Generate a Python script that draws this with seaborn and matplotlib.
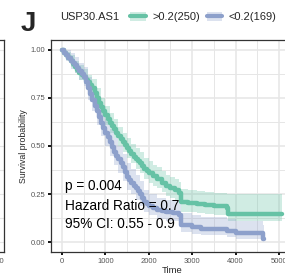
import numpy as np
import pandas as pd
import matplotlib
matplotlib.use('Agg')
import matplotlib.pyplot as plt
from matplotlib.patches import Patch
from matplotlib.lines import Line2D
from matplotlib.ticker import MultipleLocator
import seaborn as sns

# survival curves
green_t = [0, 50, 100, 150, 200, 250, 300, 350, 400, 450, 500, 550, 600, 650, 700, 750, 800, 850,
           900, 950, 1000, 1050, 1100, 1150, 1200, 1250, 1300, 1350, 1400, 1450, 1500, 1550, 1600,
           1650, 1700, 1750, 1800, 1850, 1900, 1950, 2000, 2100, 2200, 2300, 2400, 2500, 2600, 2700,
           2750, 2900, 3100, 3300, 3500, 3800, 3820, 4200, 4600, 5060]
green_s = [1.00, 0.985, 0.97, 0.955, 0.94, 0.925, 0.91, 0.895, 0.88, 0.87, 0.86, 0.845, 0.83, 0.815,
           0.80, 0.775, 0.75, 0.725, 0.70, 0.68, 0.66, 0.64, 0.62, 0.605, 0.59, 0.57, 0.55, 0.535,
           0.52, 0.505, 0.49, 0.475, 0.46, 0.445, 0.43, 0.42, 0.41, 0.395, 0.38, 0.37, 0.36, 0.345,
           0.33, 0.31, 0.295, 0.28, 0.27, 0.255, 0.21, 0.205, 0.20, 0.195, 0.19, 0.18, 0.146, 0.146,
           0.146, 0.146]

blue_t = [0, 50, 100, 150, 200, 250, 300, 350, 400, 450, 500, 550, 600, 650, 700, 750, 800, 850,
          900, 950, 1000, 1050, 1100, 1150, 1200, 1250, 1300, 1350, 1400, 1450, 1500, 1550, 1600,
          1650, 1700, 1750, 1800, 1850, 1900, 1950, 2000, 2100, 2200, 2300, 2400, 2550, 2700, 2750,
          3000, 3200, 3800, 4000, 4620, 4650]
blue_s = [1.00, 0.985, 0.97, 0.955, 0.94, 0.93, 0.92, 0.905, 0.89, 0.875, 0.86, 0.83, 0.80, 0.77,
          0.74, 0.71, 0.68, 0.65, 0.62, 0.595, 0.57, 0.545, 0.52, 0.495, 0.47, 0.45, 0.43, 0.41,
          0.39, 0.365, 0.34, 0.325, 0.31, 0.295, 0.28, 0.265, 0.25, 0.23, 0.21, 0.20, 0.19, 0.18,
          0.17, 0.165, 0.16, 0.15, 0.14, 0.09, 0.08, 0.07, 0.06, 0.05, 0.02, 0.02]

# confidence bands (coarser)
green_ci_t = [0, 100, 200, 300, 400, 500, 600, 700, 800, 900, 1000, 1100, 1200, 1300, 1400, 1500,
              1600, 1700, 1800, 1900, 2000, 2100, 2200, 2300, 2400, 2500, 2600, 2700, 2750, 2900,
              3100, 3300, 3500, 3800, 3820, 4200, 4600, 5060]
green_lo = [1.00, 0.95, 0.91, 0.88, 0.84, 0.82, 0.79, 0.75, 0.70, 0.65, 0.61, 0.57, 0.54, 0.50, 0.47,
            0.44, 0.41, 0.38, 0.36, 0.33, 0.31, 0.29, 0.28, 0.26, 0.24, 0.23, 0.22, 0.205, 0.16, 0.155,
            0.15, 0.145, 0.14, 0.135, 0.11, 0.11, 0.11, 0.11]
green_hi = [1.00, 0.99, 0.97, 0.94, 0.92, 0.90, 0.87, 0.85, 0.80, 0.75, 0.71, 0.67, 0.64, 0.60, 0.57,
            0.54, 0.51, 0.49, 0.47, 0.44, 0.42, 0.40, 0.39, 0.37, 0.35, 0.34, 0.33, 0.315, 0.275, 0.27,
            0.265, 0.26, 0.255, 0.25, 0.25, 0.25, 0.25, 0.25]

blue_ci_t = [0, 100, 200, 300, 400, 500, 600, 700, 800, 900, 1000, 1100, 1200, 1300, 1400, 1500,
             1600, 1700, 1800, 1900, 2000, 2200, 2400, 2700, 2750, 3000, 3200, 3800, 4000, 4620, 4650]
blue_lo = [1.00, 0.94, 0.90, 0.88, 0.84, 0.81, 0.74, 0.68, 0.61, 0.55, 0.50, 0.45, 0.40, 0.36, 0.32,
           0.27, 0.25, 0.22, 0.19, 0.16, 0.14, 0.12, 0.11, 0.095, 0.055, 0.045, 0.04, 0.03, 0.02, 0.01, 0.01]
blue_hi = [1.00, 1.00, 0.98, 0.96, 0.93, 0.91, 0.86, 0.80, 0.75, 0.69, 0.64, 0.59, 0.54, 0.50, 0.46,
           0.41, 0.38, 0.35, 0.32, 0.27, 0.25, 0.23, 0.22, 0.20, 0.15, 0.14, 0.13, 0.12, 0.11, 0.09, 0.09]

groups = ['>0.2(250)', '<0.2(169)']
colors = ['#66C2A5', '#8DA0CB']
stats_text = ['p = 0.004', 'Hazard Ratio = 0.7', '95% CI: 0.55 - 0.9']

# neighbouring panel's tail, only its right edge shows
left_t = [4000, 5060]
left_s = [0.093, 0.093]
left_lo = [0.06, 0.06]
left_hi = [0.14, 0.14]

sns.set_theme(style='white')
plt.rcParams['font.family'] = ['Liberation Sans', 'DejaVu Sans']

fig = plt.figure(figsize=(2.85, 2.79), dpi=100)
ax = fig.add_axes([51 / 285, 27 / 279, 241.6 / 285, 212 / 279])

df = pd.concat([
    pd.DataFrame({'time': green_t, 'surv': green_s, 'grp': groups[0]}),
    pd.DataFrame({'time': blue_t, 'surv': blue_s, 'grp': groups[1]}),
])

ax.fill_between(green_ci_t, green_lo, green_hi, step='post', color=colors[0], alpha=0.3, lw=0)
ax.fill_between(blue_ci_t, blue_lo, blue_hi, step='post', color=colors[1], alpha=0.3, lw=0)
sns.lineplot(data=df, x='time', y='surv', hue='grp', palette=colors, drawstyle='steps-post',
             linewidth=3.2, estimator=None, legend=False, ax=ax)

ax.set_xlim(-253, 5313)
ax.set_ylim(-0.05, 1.05)
ax.xaxis.set_major_locator(MultipleLocator(1000))
ax.xaxis.set_minor_locator(MultipleLocator(500))
ax.yaxis.set_major_locator(MultipleLocator(0.25))
ax.yaxis.set_minor_locator(MultipleLocator(0.125))
ax.set_yticklabels(['%.2f' % v for v in ax.get_yticks()])
ax.grid(which='major', color='#E6E6E6', lw=1.1)
ax.grid(which='minor', color='#E6E6E6', lw=0.7)
ax.set_axisbelow(True)
ax.tick_params(which='major', direction='out', length=2.5, width=1.3, color='black',
               labelsize=5.5, labelcolor='#555555', pad=1.5, bottom=True, left=True)
ax.tick_params(which='minor', length=0)
for s in ax.spines.values():
    s.set_color('#333333')
    s.set_linewidth(0.9)
ax.set_xlabel('Time', fontsize=6.8, labelpad=1)
ax.set_ylabel('Survival probability', fontsize=6.3, labelpad=2)

for txt, y in zip(stats_text, [0.295, 0.19, 0.093]):
    ax.text(70, y, txt, fontsize=9.8, va='center', ha='left', color='black')

# left panel remnant
ax0 = fig.add_axes([-200 / 285, 27 / 279, 204 / 285, 212 / 279])
ax0.fill_between(left_t, left_lo, left_hi, step='post', color=colors[0], alpha=0.3, lw=0)
sns.lineplot(x=left_t, y=left_s, color=colors[0], linewidth=3.2, ax=ax0)
ax0.set_xlim(0, 5210)
ax0.set_ylim(-0.05, 1.05)
ax0.set_xticks([5000])
ax0.set_xticklabels(['5000'])
ax0.set_yticks([])
ax0.xaxis.set_minor_locator(MultipleLocator(500))
ax0.yaxis.set_minor_locator(MultipleLocator(0.125))
ax0.grid(which='both', color='#E6E6E6', lw=0.8)
ax0.set_axisbelow(True)
ax0.tick_params(which='major', length=2.5, width=1.3, color='black', labelsize=5.5,
                labelcolor='#555555', pad=1.5, bottom=True)
ax0.tick_params(which='minor', length=0)
for s in ax0.spines.values():
    s.set_color('#333333')
    s.set_linewidth(0.9)

# panel letter and legend
fig.text(28 / 285, 1 - 24 / 279, 'J', fontsize=20, fontweight='bold', ha='center', va='center')
fig.text(60 / 285, 1 - 17 / 279, 'USP30.AS1', fontsize=8, ha='left', va='center')
handles = [(Patch(facecolor=c, alpha=0.3, lw=0), Line2D([], [], color=c, lw=3)) for c in colors]
fig.legend(handles, groups, loc='center left', bbox_to_anchor=(130 / 285, 1 - 17 / 279), ncol=2,
           frameon=False, fontsize=8, handlelength=1.4, handleheight=0.9, handletextpad=0.6,
           columnspacing=0.6, borderpad=0, borderaxespad=0)

fig.savefig('out.png', dpi=100)
